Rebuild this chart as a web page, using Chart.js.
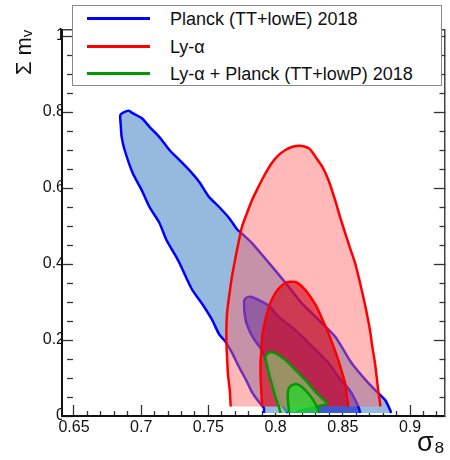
<!DOCTYPE html>
<html>
<head>
<meta charset="utf-8">
<script src="https://cdn.jsdelivr.net/npm/chart.js@4/dist/chart.umd.min.js"></script>
<style>
html,body{margin:0;padding:0;background:#fff;overflow:hidden}
#wrap{position:relative;width:450px;height:460px}
#legend{position:absolute;left:72px;top:5px;width:368px;height:79px;border:1.5px solid #8a8a8a;background:#fff;font-family:"Liberation Sans",Arial,Helvetica,sans-serif;font-size:18px;color:#111}
.row{position:absolute;left:0;right:0;height:24px}
.sw{position:absolute;left:14px;top:10.5px;width:63px;height:3px}
.lab{position:absolute;left:97px;top:0;line-height:24px;white-space:nowrap}
</style>
</head>
<body>
<div id="wrap">
<canvas id="c" width="450" height="460"></canvas>
<div id="legend"></div>
</div>
<script>
// ---- legend / series names ----
const seriesLabels = ['Planck (TT+lowE) 2018', 'Ly-\u03b1', 'Ly-\u03b1 + Planck (TT+lowP) 2018'];

// ---- contour values [sigma8, sum m_nu] ----
const planck95 = [[0.7913,0.008],[0.7913,0.021],[0.7876,0.037],[0.7824,0.063],[0.7780,0.095],[0.7728,0.129],[0.7676,0.166],[0.7624,0.197],[0.7580,0.215],[0.7528,0.253],[0.7469,0.287],[0.7380,0.332],[0.7343,0.358],[0.7299,0.392],[0.7262,0.418],[0.7188,0.463],[0.7136,0.508],[0.7062,0.550],[0.7003,0.595],[0.6936,0.640],[0.6877,0.700],[0.6855,0.734],[0.6848,0.766],[0.6845,0.792],[0.6870,0.799],[0.6907,0.803],[0.6936,0.797],[0.7003,0.784],[0.7062,0.761],[0.7136,0.734],[0.7210,0.700],[0.7284,0.674],[0.7358,0.647],[0.7432,0.616],[0.7506,0.576],[0.7580,0.550],[0.7654,0.521],[0.7717,0.490],[0.7743,0.482],[0.7824,0.455],[0.7950,0.403],[0.8075,0.350],[0.8194,0.297],[0.8320,0.253],[0.8445,0.208],[0.8564,0.140],[0.8689,0.087],[0.8763,0.061],[0.8815,0.042],[0.8852,0.016],[0.8860,0.008]];
const planck68 = [[0.8090,0.008],[0.8046,0.029],[0.8016,0.061],[0.7979,0.100],[0.7935,0.142],[0.7888,0.179],[0.7851,0.196],[0.7814,0.218],[0.7777,0.253],[0.7765,0.297],[0.7777,0.310],[0.7814,0.314],[0.7876,0.305],[0.7950,0.290],[0.8024,0.261],[0.8098,0.240],[0.8172,0.218],[0.8246,0.192],[0.8320,0.166],[0.8393,0.140],[0.8467,0.103],[0.8519,0.082],[0.8564,0.061],[0.8593,0.042],[0.8615,0.025],[0.8630,0.008]];
const lya95 = [[0.7666,0.025],[0.7659,0.068],[0.7646,0.108],[0.7641,0.140],[0.7635,0.184],[0.7634,0.226],[0.7639,0.271],[0.7654,0.314],[0.7676,0.368],[0.7703,0.419],[0.7728,0.463],[0.7750,0.498],[0.7787,0.534],[0.7824,0.568],[0.7861,0.595],[0.7898,0.621],[0.7935,0.645],[0.7972,0.666],[0.8024,0.687],[0.8073,0.700],[0.8120,0.708],[0.8172,0.711],[0.8209,0.710],[0.8253,0.703],[0.8297,0.682],[0.8349,0.655],[0.8393,0.621],[0.8443,0.568],[0.8482,0.521],[0.8517,0.482],[0.8554,0.442],[0.8591,0.403],[0.8623,0.358],[0.8652,0.314],[0.8678,0.271],[0.8702,0.226],[0.8719,0.184],[0.8739,0.140],[0.8752,0.103],[0.8763,0.068],[0.8774,0.042],[0.8780,0.025]];
const lya68 = [[0.7900,0.025],[0.7893,0.068],[0.7888,0.108],[0.7888,0.140],[0.7894,0.174],[0.7900,0.209],[0.7916,0.240],[0.7937,0.271],[0.7964,0.300],[0.7999,0.324],[0.8035,0.340],[0.8073,0.350],[0.8105,0.353],[0.8135,0.353],[0.8160,0.351],[0.8221,0.332],[0.8260,0.313],[0.8305,0.288],[0.8349,0.253],[0.8393,0.218],[0.8430,0.184],[0.8467,0.147],[0.8493,0.116],[0.8517,0.087],[0.8530,0.055],[0.8541,0.025]];
const comb95 = [[0.8036,0.008],[0.8024,0.025],[0.7999,0.051],[0.7974,0.082],[0.7950,0.112],[0.7932,0.139],[0.7925,0.156],[0.7950,0.167],[0.7999,0.165],[0.8073,0.147],[0.8147,0.121],[0.8221,0.095],[0.8295,0.064],[0.8344,0.047],[0.8381,0.033],[0.8320,0.026],[0.8246,0.020],[0.8159,0.011]];
const comb68 = [[0.8098,0.008],[0.8098,0.016],[0.8090,0.051],[0.8098,0.073],[0.8135,0.083],[0.8172,0.082],[0.8221,0.068],[0.8270,0.047],[0.8307,0.025],[0.8325,0.008]];

// ---- tick labels ----
const xMajor = [0.65, 0.7, 0.75, 0.8, 0.85, 0.9];
const xTickLabels = ['0.65', '0.7', '0.75', '0.8', '0.85', '0.9'];
const yMajor = [0, 0.2, 0.4, 0.6, 0.8, 1];
const yTickLabels = ['0', '0.2', '0.4', '0.6', '0.8', '1'];

// ---- styles ----
const lineColors = ['#0000ff', '#ff0000', '#009900'];
const FONT = '"Liberation Sans", Arial, Helvetica, sans-serif';

function majorIdx(v, arr) { return arr.findIndex(m => Math.abs(m - v) < 1e-6); }
const pts = a => a.map(p => ({x: p[0], y: p[1]}));

function contour(label, data, line, fill, order) {
  return {
    label, data: pts(data), showLine: true, fill: 'shape',
    borderColor: line, backgroundColor: fill, borderWidth: 2.5,
    pointRadius: 0, pointHoverRadius: 0, tension: 0.25, order
  };
}

const X_MIN = 0.6411, X_MAX = 0.9259, Y_MIN = 0, Y_MAX = 1.0158;

function axisCommon(major, labels, step, min, max, showLabels, pad) {
  return {
    type: 'linear', min, max,
    grid: {
      display: true, drawOnChartArea: false, drawTicks: true,
      tickLength: -11, tickColor: '#333', tickWidth: 1.3,
      tickBorderDash: ctx => (ctx.tick && majorIdx(ctx.tick.value, major) >= 0) ? [] : [6, 40]
    },
    ticks: {
      display: showLabels, stepSize: step, autoSkip: false, includeBounds: false,
      maxRotation: 0, minRotation: 0, padding: pad, color: '#111',
      font: {family: FONT, size: 16},
      callback: v => { const i = majorIdx(v, major); return i >= 0 ? labels[i] : ''; }
    }
  };
}

const xAxis = Object.assign(axisCommon(xMajor, xTickLabels, 0.01, X_MIN, X_MAX, true, 13), {
  position: 'bottom',
  border: {display: true, color: '#111', width: 2},
  title: {display: true, text: '\u03c3\u2088', align: 'end', color: '#111',
          font: {family: FONT, size: 27}, padding: {top: 0, bottom: 0}},
  afterFit: s => { s.height = 44; }
});
const x2Axis = Object.assign(axisCommon(xMajor, xTickLabels, 0.01, X_MIN, X_MAX, false, 0), {
  position: 'top',
  border: {display: true, color: '#444', width: 1.5},
  afterFit: s => { s.height = 30; }
});
const yAxis = Object.assign(axisCommon(yMajor, yTickLabels, 0.05, Y_MIN, Y_MAX, true, 8), {
  position: 'left',
  border: {display: true, color: '#111', width: 2},
  title: {display: true, text: '\u03a3 m\u1d65', align: 'end', color: '#111',
          font: {family: FONT, size: 22}, padding: {top: 12, bottom: 0}},
  afterFit: s => { s.width = 62; }
});
const y2Axis = Object.assign(axisCommon(yMajor, yTickLabels, 0.05, Y_MIN, Y_MAX, false, 0), {
  position: 'right',
  border: {display: true, color: '#444', width: 1.5},
  afterFit: s => { s.width = 3; }
});

new Chart(document.getElementById('c'), {
  type: 'scatter',
  data: {
    datasets: [
      contour(seriesLabels[0] + ' 95%', planck95, lineColors[0], 'rgb(150,185,222)', 6),
      contour(seriesLabels[0] + ' 68%', planck68, lineColors[0], 'rgb(60,90,210)', 5),
      contour(seriesLabels[1] + ' 95%', lya95, lineColors[1], 'rgba(255,100,100,0.45)', 4),
      contour(seriesLabels[1] + ' 68%', lya68, lineColors[1], 'rgba(210,0,25,0.6)', 3),
      contour(seriesLabels[2] + ' 95%', comb95, lineColors[2], 'rgba(133,220,115,0.6)', 2),
      contour(seriesLabels[2] + ' 68%', comb68, lineColors[2], 'rgba(30,220,40,0.7)', 1)
    ]
  },
  options: {
    responsive: false, animation: false, devicePixelRatio: 1,
    events: [],
    layout: {padding: 0},
    plugins: {legend: {display: false}, tooltip: {enabled: false}},
    scales: {x: xAxis, x2: x2Axis, y: yAxis, y2: y2Axis}
  }
});

// HTML legend built from the series names and line colours
const leg = document.getElementById('legend');
const rowCenters = [12.5, 40.5, 67.5];
seriesLabels.forEach((t, i) => {
  const r = document.createElement('div');
  r.className = 'row';
  r.style.top = (rowCenters[i] - 12) + 'px';
  const sw = document.createElement('div');
  sw.className = 'sw';
  sw.style.background = lineColors[i];
  const lb = document.createElement('div');
  lb.className = 'lab';
  lb.textContent = t;
  r.appendChild(sw); r.appendChild(lb);
  leg.appendChild(r);
});
</script>
</body>
</html>
